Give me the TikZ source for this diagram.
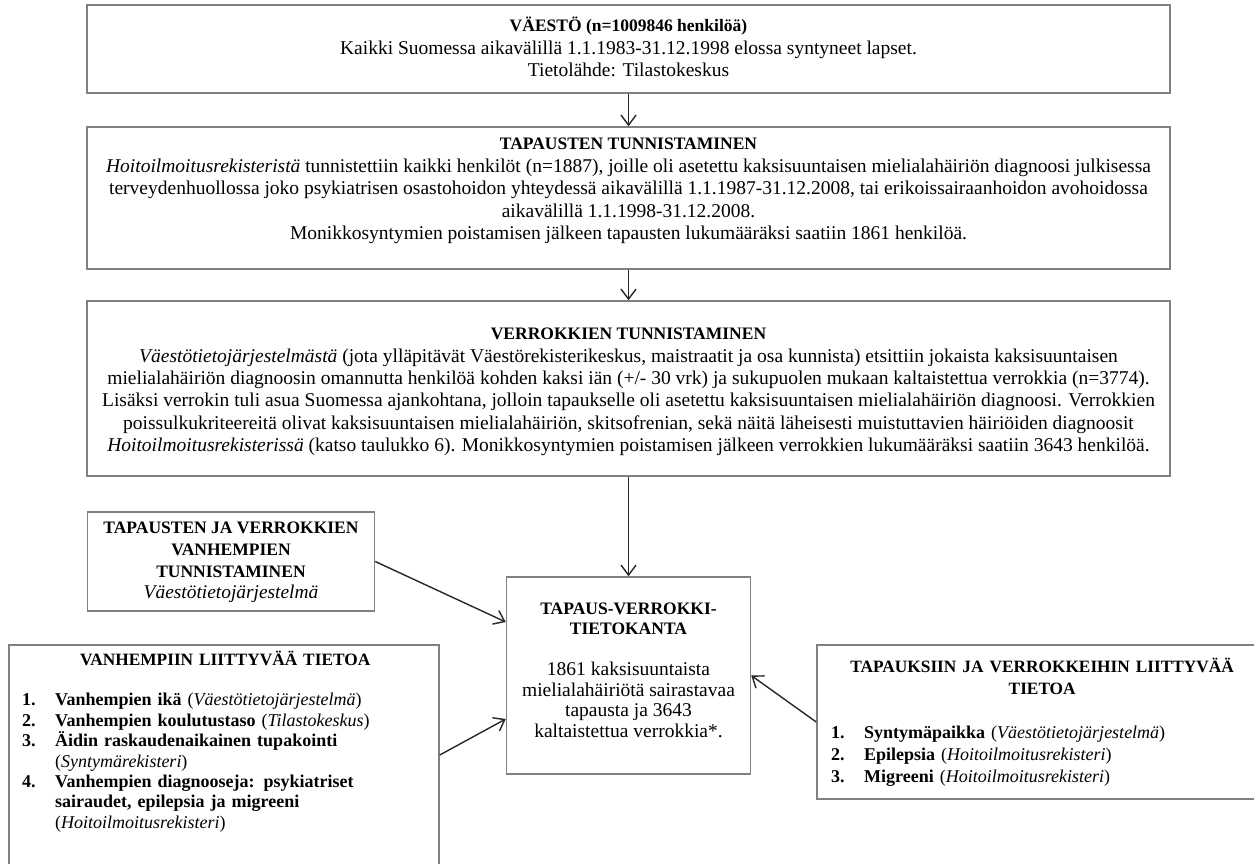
\documentclass[tikz,border=0pt]{standalone}
\usepackage{fontspec}
\setmainfont{Liberation Serif}
\usetikzlibrary{arrows.meta, calc}
\tikzset{
>={Straight Barb[length=10pt,width=15pt]},
box/.style={%
    rectangle,
    draw=black!50,
    line width=1.5pt,
    inner sep=0pt,
},
txt/.style={%
    inner sep=0pt,
    align=center,
    font=\fontsize{19.5}{22.4}\selectfont,
},
listtxt/.style={%
    inner sep=0pt,
    text width=#1,
    font=\fontsize{18}{20.4}\selectfont,
},
link/.style={->, line width=1.4pt, draw=black!85},
}
\newcommand{\boxtitle}[1]{{\fontsize{17.5}{\baselineskip}\selectfont\bfseries #1}}
\newcommand{\regitem}[2]{\par\noindent\hangindent=33pt\hangafter=1\makebox[33pt][l]{\textbf{#1}}#2\par}
\newcommand{\listhead}[1]{{\centering\fontsize{17.3}{\baselineskip}\selectfont\textbf{#1}\par}}

\begin{document}
\begin{tikzpicture}[x=1pt, y=-1pt]
	\path[use as bounding box] (0,0) rectangle (1254,864);
	\clip (0,0) rectangle (1254,864);

	% boxes
	\node[box, minimum width=1083pt, minimum height=88pt] at (628.5,49) (pop) {};
	\node[box, minimum width=1083pt, minimum height=142pt] at (628.5,198) (cases) {};
	\node[box, minimum width=1083pt, minimum height=175pt] at (628.5,388.5) (ctrls) {};
	\node[box, minimum width=287pt, minimum height=99pt] at (231,561.5) (parid) {};
	\node[box, minimum width=244pt, minimum height=197pt] at (628.5,675.5) (db) {};
	\node[box, minimum width=430pt, minimum height=260pt] at (224,775) (parinfo) {};
	\node[box, minimum width=450pt, minimum height=154pt] at (1042,722) (caseinfo) {};

	% texts
	\node[txt] at (628.5,47) (poptxt) {\boxtitle{VÄESTÖ (n=1009846 henkilöä)}\\
		Kaikki Suomessa aikavälillä 1.1.1983-31.12.1998 elossa syntyneet lapset.\\
		Tietolähde: Tilastokeskus};
	\node[txt] at (628.5,191) (casestxt) {\boxtitle{TAPAUSTEN TUNNISTAMINEN}\\
		\textit{Hoitoilmoitusrekisteristä} tunnistettiin kaikki henkilöt (n=1887), joille oli asetettu kaksisuuntaisen mielialahäiriön diagnoosi julkisessa\\
		terveydenhuollossa joko psykiatrisen osastohoidon yhteydessä aikavälillä 1.1.1987-31.12.2008, tai erikoissairaanhoidon avohoidossa\\
		aikavälillä 1.1.1998-31.12.2008.\\
		Monikkosyntymien poistamisen jälkeen tapausten lukumääräksi saatiin 1861 henkilöä.};
	\node[txt] at (628.5,392) (ctrlstxt) {\boxtitle{VERROKKIEN TUNNISTAMINEN}\\
		\textit{Väestötietojärjestelmästä} (jota ylläpitävät Väestörekisterikeskus, maistraatit ja osa kunnista) etsittiin jokaista kaksisuuntaisen\\
		mielialahäiriön diagnoosin omannutta henkilöä kohden kaksi iän (+/- 30 vrk) ja sukupuolen mukaan kaltaistettua verrokkia (n=3774).\\
		Lisäksi verrokin tuli asua Suomessa ajankohtana, jolloin tapaukselle oli asetettu kaksisuuntaisen mielialahäiriön diagnoosi. Verrokkien\\
		poissulkukriteereitä olivat kaksisuuntaisen mielialahäiriön, skitsofrenian, sekä näitä läheisesti muistuttavien häiriöiden diagnoosit\\
		\textit{Hoitoilmoitusrekisterissä} (katso taulukko 6). Monikkosyntymien poistamisen jälkeen verrokkien lukumääräksi saatiin 3643 henkilöä.};
	\node[txt, font=\fontsize{19.4}{21.7}\selectfont] at (231,562.5) (paridtxt) {\boxtitle{TAPAUSTEN JA VERROKKIEN}\\
		\boxtitle{VANHEMPIEN}\\
		\boxtitle{TUNNISTAMINEN}\\
		\textit{Väestötietojärjestelmä}};
	\node[txt, font=\fontsize{19.5}{20.5}\selectfont] at (628.5,670) (dbtxt) {\boxtitle{TAPAUS-VERROKKI-}\\
		\boxtitle{TIETOKANTA}\\[20.5pt]
		1861 kaksisuuntaista\\
		mielialahäiriötä sairastavaa\\
		tapausta ja 3643\\
		kaltaistettua verrokkia*.};
	\node[listtxt=406pt, anchor=west] at (22,741.5) (parinfotxt) {\raggedright
		\listhead{VANHEMPIIN LIITTYVÄÄ TIETOA}
		\vspace{20.4pt}
		\regitem{1.}{\textbf{Vanhempien ikä} (\textit{Väestötietojärjestelmä})}
		\regitem{2.}{\textbf{Vanhempien koulutustaso} (\textit{Tilastokeskus})}
		\regitem{3.}{\textbf{Äidin raskaudenaikainen tupakointi}\newline(\textit{Syntymärekisteri})}
		\regitem{4.}{\textbf{Vanhempien diagnooseja: psykiatriset}\newline\textbf{sairaudet, epilepsia ja migreeni}\newline(\textit{Hoitoilmoitusrekisteri})}};
	\node[listtxt=422pt, anchor=west, font=\fontsize{18}{22}\selectfont] at (831,722) (caseinfotxt) {\raggedright
		\listhead{TAPAUKSIIN JA VERROKKEIHIN LIITTYVÄÄ\\TIETOA}
		\vspace{22pt}
		\regitem{1.}{\textbf{Syntymäpaikka} (\textit{Väestötietojärjestelmä})}
		\regitem{2.}{\textbf{Epilepsia} (\textit{Hoitoilmoitusrekisteri})}
		\regitem{3.}{\textbf{Migreeni} (\textit{Hoitoilmoitusrekisteri})}};

	% connectors
	\draw[link] (pop.south) -- (cases.north);
	\draw[link] (cases.south) -- (ctrls.north);
	\draw[link] (ctrls.south) -- (db.north);
	\draw[link] (parid.east) -- ($(db.west)+(0,-53.5)$);
	\draw[link] ($(parinfo.east)+(0,-20)$) -- ($(db.west)+(0,43.5)$);
	\draw[link] (caseinfo.west) -- (db.east);
\end{tikzpicture}
\end{document}
